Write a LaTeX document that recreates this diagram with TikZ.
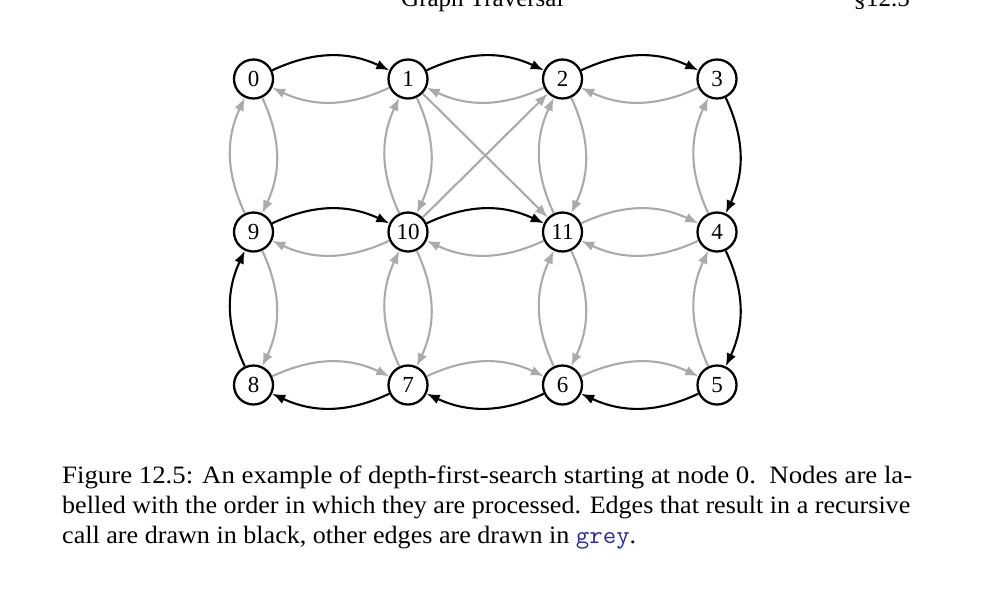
\documentclass[tikz,border=0pt]{standalone}
\usepackage{fontspec}
\setmainfont{Liberation Serif}
\usetikzlibrary{arrows.meta}
\definecolor{edgegrey}{RGB}{170,170,170}
\definecolor{ttblue}{RGB}{40,40,150}
\begin{document}
\begin{tikzpicture}[x=1pt,y=-1pt,
  vtx/.style={circle,draw,line width=2.3pt,minimum size=39pt,inner sep=0pt,font=\fontsize{23}{23}\selectfont},
  blk/.style={line width=2.1pt,-{Latex[length=13pt,width=10pt]}},
  gry/.style={draw=edgegrey,line width=2.1pt,-{Latex[length=13pt,width=10pt]}},
  captxt/.style={anchor=base west,inner sep=0pt,font=\fontsize{25}{30}\selectfont},
  hdrtxt/.style={inner sep=0pt,font=\fontsize{25}{30}\selectfont}
]
\useasboundingbox (0,0) rectangle (995,598);
\clip (0,0) rectangle (995,598);

% header (cut off at the top)
\node[hdrtxt,anchor=base west] (hdr) at (401,6) {Graph Traversal};
\node[hdrtxt,anchor=base east] (sec) at (910,6) {\S12.5};

% vertices
\node[vtx] (n0)  at (253.5,79)  {0};
\node[vtx] (n1)  at (408,79)    {1};
\node[vtx] (n2)  at (562.5,79)  {2};
\node[vtx] (n3)  at (717,79)    {3};
\node[vtx] (n9)  at (253.5,232) {9};
\node[vtx] (n10) at (408,232)   {10};
\node[vtx] (n11) at (562.5,232) {11};
\node[vtx] (n4)  at (717,232)   {4};
\node[vtx] (n8)  at (253.5,385) {8};
\node[vtx] (n7)  at (408,385)   {7};
\node[vtx] (n6)  at (562.5,385) {6};
\node[vtx] (n5)  at (717,385)   {5};

% grey edges
\draw[gry] (n1) to[bend left=25] (n0);
\draw[gry] (n2) to[bend left=25] (n1);
\draw[gry] (n3) to[bend left=25] (n2);
\draw[gry] (n10) to[bend left=25] (n9);
\draw[gry] (n11) to[bend left=25] (n10);
\draw[gry] (n11) to[bend left=25] (n4);
\draw[gry] (n4) to[bend left=25] (n11);
\draw[gry] (n8) to[bend left=25] (n7);
\draw[gry] (n7) to[bend left=25] (n6);
\draw[gry] (n6) to[bend left=25] (n5);
\draw[gry] (n0) to[bend left=25] (n9);
\draw[gry] (n9) to[bend left=25] (n0);
\draw[gry] (n9) to[bend left=25] (n8);
\draw[gry] (n1) to[bend left=25] (n10);
\draw[gry] (n10) to[bend left=25] (n1);
\draw[gry] (n10) to[bend left=25] (n7);
\draw[gry] (n7) to[bend left=25] (n10);
\draw[gry] (n2) to[bend left=25] (n11);
\draw[gry] (n11) to[bend left=25] (n2);
\draw[gry] (n11) to[bend left=25] (n6);
\draw[gry] (n6) to[bend left=25] (n11);
\draw[gry] (n4) to[bend left=25] (n3);
\draw[gry] (n5) to[bend left=25] (n4);
\draw[gry] (n1) -- (n11);
\draw[gry] (n10) -- (n2);

% black edges (recursive calls)
\draw[blk] (n0) to[bend left=25] (n1);
\draw[blk] (n1) to[bend left=25] (n2);
\draw[blk] (n2) to[bend left=25] (n3);
\draw[blk] (n3) to[bend left=25] (n4);
\draw[blk] (n4) to[bend left=25] (n5);
\draw[blk] (n5) to[bend left=25] (n6);
\draw[blk] (n6) to[bend left=25] (n7);
\draw[blk] (n7) to[bend left=25] (n8);
\draw[blk] (n8) to[bend left=25] (n9);
\draw[blk] (n9) to[bend left=25] (n10);
\draw[blk] (n10) to[bend left=25] (n11);

% caption
\node[captxt] (cap1) at (62,483) {\resizebox{850pt}{\height}{Figure 12.5: An example of depth-first-search starting at node 0.\ \ Nodes are la-}};
\node[captxt] (cap2) at (62,513) {\resizebox{848pt}{\height}{belled with the order in which they are processed. Edges that result in a recursive}};
\node[captxt] (cap3) at (62,543) {\resizebox{574pt}{\height}{call are drawn in black, other edges are drawn in \textcolor{ttblue}{\texttt{grey}}.}};
\end{tikzpicture}
\end{document}
